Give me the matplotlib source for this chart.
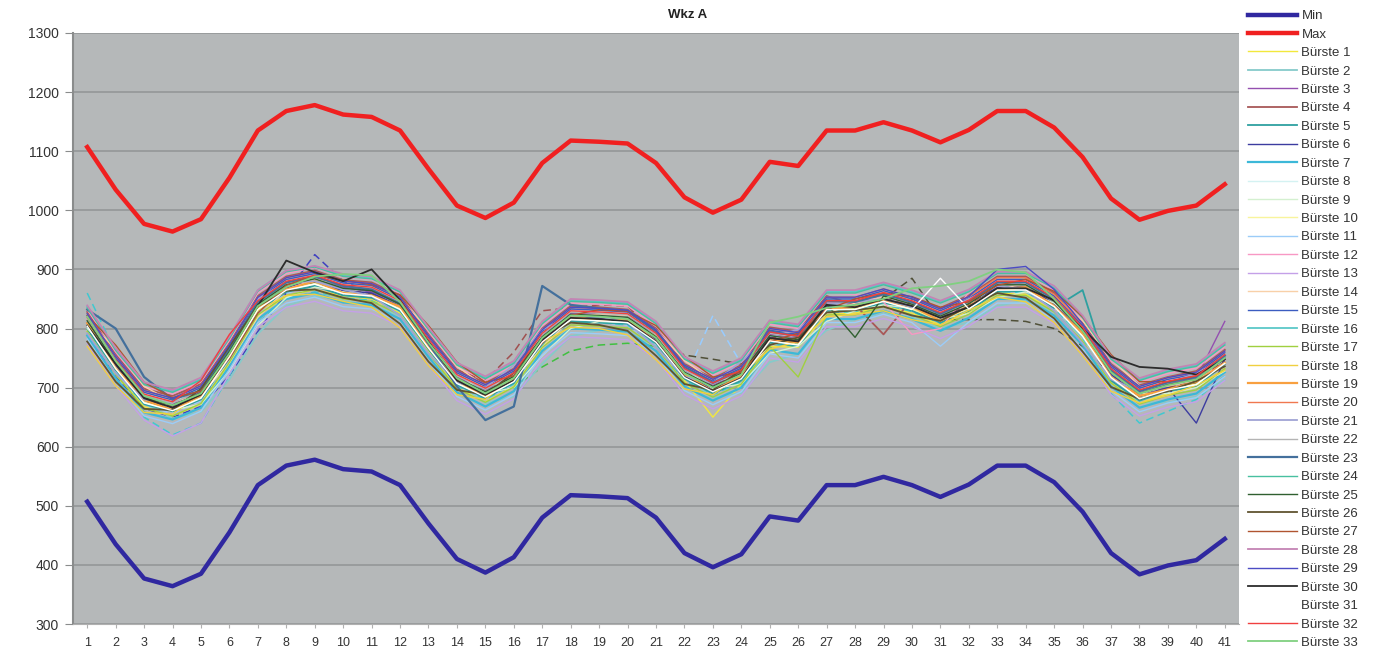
import matplotlib
matplotlib.use("Agg")
import matplotlib.pyplot as plt

plt.rcParams['font.family'] = ['Liberation Sans', 'DejaVu Sans']

x_labels = [str(i) for i in range(1, 42)]

min_vals = [507,435,377,364,385,455,535,568,578,562,558,535,470,410,387,413,480,518,516,513,480,420,396,418,482,475,535,535,549,535,515,536,568,568,540,490,420,384,399,408,444]
max_vals = [1107,1035,977,964,985,1055,1135,1168,1178,1162,1158,1135,1070,1008,987,1013,1080,1118,1116,1113,1080,1022,996,1018,1082,1075,1135,1135,1149,1135,1115,1136,1168,1168,1140,1090,1020,984,999,1008,1044]

b01 = [795,722,668,652,672,740,822,855,866,855,850,826,762,700,676,702,768,828,830,832,788,712,650,706,770,768,824,826,838,826,806,828,860,858,830,778,708,674,690,700,732]
b02 = [787,737,674,648,659,714,791,838,855,847,839,822,770,708,674,685,740,787,797,794,770,718,683,691,743,757,797,815,825,819,801,810,838,848,828,785,721,675,675,685,713]
b03 = [815,745,685,672,693,765,845,878,888,870,862,842,780,718,696,722,790,826,826,822,790,730,704,726,790,784,844,842,858,844,824,846,878,878,850,800,728,692,708,716,812]
b04 = [828,756,698,686,706,775,855,888,898,882,878,856,790,730,708,732,800,838,836,832,800,740,716,738,802,795,855,840,790,850,835,856,888,888,860,810,740,704,718,728,764]
b05 = [800,730,672,660,680,750,830,862,872,856,852,830,765,705,682,708,775,812,810,808,775,715,690,712,776,770,830,830,844,830,810,830,862,864,835,865,712,678,694,702,740]
b06 = [810,738,680,666,688,758,838,870,880,864,860,838,772,712,690,716,782,820,818,815,782,722,698,720,784,778,838,836,851,837,817,838,870,870,842,792,722,686,700,640,748]
b07 = [788,716,658,646,666,736,816,850,860,844,840,816,752,692,668,694,762,800,798,795,762,702,678,700,764,757,816,816,830,816,796,818,850,850,822,772,702,666,680,690,726]
b08 = [820,748,690,676,698,768,848,880,890,874,870,848,782,722,700,726,792,830,828,825,792,732,708,730,794,787,847,847,861,847,827,848,880,880,852,802,732,696,712,720,756]
b09 = [800,752,690,662,672,728,805,852,870,862,855,836,785,724,690,700,754,800,812,810,786,733,698,706,758,770,812,830,840,834,816,825,852,862,843,800,736,690,690,700,728]
b10 = [805,733,675,662,683,753,833,866,876,860,856,833,768,708,685,711,778,816,814,811,778,718,694,716,780,773,833,833,847,833,813,834,866,866,838,788,718,682,697,706,742]
b11 = [782,710,652,639,660,730,810,843,853,837,833,810,745,685,662,688,755,793,791,788,755,695,671,693,757,750,810,810,824,810,770,811,843,843,815,765,695,659,674,683,719]
b12 = [832,760,702,689,710,780,860,893,903,887,883,860,795,735,712,738,805,843,841,838,805,745,721,743,807,800,860,858,845,790,800,861,893,893,865,815,745,709,724,733,769]
b13 = [775,703,645,618,640,723,803,836,846,830,826,803,738,678,655,681,748,786,784,781,748,688,664,686,750,743,803,803,817,803,783,804,836,836,808,758,688,652,667,676,712]
b14 = [815,765,702,676,687,742,819,866,883,875,867,850,798,736,702,713,768,815,825,822,798,746,711,719,771,785,825,843,853,847,829,838,866,876,856,813,749,703,703,713,741]
b15 = [822,750,692,679,700,770,850,883,893,877,873,850,785,725,702,728,795,833,831,828,795,735,711,733,797,790,850,850,864,850,830,851,883,883,855,805,735,699,714,723,759]
b16 = [837,765,707,694,715,785,865,898,905,890,886,862,800,740,717,743,810,848,846,843,810,750,726,748,812,805,862,862,876,862,845,864,895,895,870,820,750,714,729,738,774]
b17 = [795,723,665,652,673,743,823,856,866,850,846,823,758,698,675,701,768,806,804,801,768,708,684,706,770,718,823,823,837,823,803,824,856,856,828,778,708,672,687,696,732]
b18 = [770,703,658,655,691,764,830,856,858,846,836,801,737,688,680,718,777,802,800,789,747,698,688,723,765,778,820,824,830,815,806,831,853,845,810,754,694,674,687,704,729]
b19 = [809,733,679,662,687,753,837,866,880,860,856,837,768,712,685,715,778,820,814,815,778,722,694,720,780,777,833,837,847,837,813,838,866,870,838,792,718,686,697,710,742]
b20 = [825,753,695,682,703,773,853,886,896,880,876,853,788,728,705,731,798,836,834,831,798,738,714,736,800,793,853,853,867,853,833,854,886,886,858,808,738,702,717,726,762]
b21 = [792,724,680,674,712,786,850,878,880,866,855,822,758,708,700,738,798,822,820,810,768,718,708,744,786,798,840,845,850,836,826,850,872,866,830,775,714,694,708,724,750]
b22 = [817,745,687,674,695,765,845,878,888,872,868,845,780,720,697,723,790,828,826,823,790,730,706,728,792,785,845,845,859,845,825,846,878,878,850,800,730,694,709,718,754]
b23 = [832,800,718,680,695,765,845,878,888,872,866,842,775,702,645,668,872,840,834,830,795,735,708,730,795,787,847,845,858,845,825,846,878,878,850,800,730,694,709,718,754]
b24 = [835,763,705,692,713,783,863,896,904,888,884,862,798,738,715,741,808,846,844,841,808,748,724,746,810,803,860,860,874,860,843,862,893,893,868,818,748,712,727,736,772]
b25 = [813,741,683,670,691,761,841,874,884,868,864,841,776,716,693,719,786,824,822,819,786,726,702,724,788,781,841,785,855,841,821,842,874,874,846,796,726,690,705,714,750]
b26 = [778,710,664,662,698,770,838,864,866,852,843,808,744,696,688,725,784,810,806,796,754,706,696,730,772,785,827,831,837,822,813,838,860,852,817,761,701,681,694,711,736]
b27 = [822,772,709,683,694,749,826,873,890,882,874,857,805,743,709,720,775,822,832,829,805,753,718,726,778,792,832,850,860,854,836,845,873,883,863,820,756,710,710,720,748]
b28 = [839,767,709,696,717,787,865,898,906,892,888,865,802,742,719,745,812,850,848,845,812,752,728,750,814,807,865,865,878,865,847,866,896,896,872,822,752,716,731,740,776]
b29 = [825,753,695,682,703,773,853,886,896,880,876,853,788,728,705,731,798,836,834,831,798,738,714,736,800,793,853,853,867,853,833,854,900,905,866,808,738,702,717,726,762]
b30 = [805,740,682,666,688,758,838,915,895,880,900,848,778,712,688,712,780,818,816,812,778,718,694,716,784,778,840,836,850,838,818,836,868,868,848,800,752,735,732,722,748]
b31 = [804,732,674,661,682,752,832,865,875,859,855,832,767,707,684,710,777,815,813,810,777,717,693,715,779,772,832,832,846,832,885,833,865,865,837,787,717,681,696,705,741]
b32 = [819,747,689,676,712,790,847,880,890,874,870,847,782,722,699,725,792,830,828,825,792,732,708,730,794,787,847,847,861,847,827,848,880,880,852,802,732,696,711,720,756]
b33 = [820,745,686,670,690,758,838,870,888,892,890,845,776,716,690,716,784,822,820,816,784,724,700,722,810,820,835,840,850,868,872,880,900,895,850,796,726,690,704,714,750]

# further (dashed) series whose legend entries are cut off
d1 = [790,720,665,650,668,720,795,860,925,880,860,832,770,710,686,712,780,818,816,812,780,720,696,718,782,775,835,835,849,835,815,836,868,868,840,790,720,684,699,708,744]
d2 = [815,740,682,668,688,758,838,870,880,864,860,836,772,730,712,760,830,835,840,838,790,725,702,722,786,778,838,838,852,838,818,840,870,870,842,792,722,686,700,710,746]
d3 = [800,730,672,660,680,750,830,862,872,858,852,830,766,706,690,700,735,762,772,775,770,718,694,716,780,773,833,833,847,833,813,834,866,866,838,788,718,682,697,706,742]
d4 = [795,728,670,656,678,748,828,860,872,858,852,828,764,704,680,706,772,812,810,806,772,712,822,740,778,770,830,830,844,830,810,832,864,864,836,786,716,680,694,704,740]
d5 = [805,736,678,664,686,756,836,868,878,862,858,836,772,712,688,714,780,818,816,812,780,755,748,740,782,775,835,840,850,885,815,815,815,812,800,770,720,684,699,708,744]
d6 = [860,760,650,620,640,720,810,850,862,852,848,826,762,702,680,706,772,812,810,806,772,712,688,710,774,768,826,828,840,828,808,828,860,862,834,784,690,640,660,680,720]

buerste = [b01,b02,b03,b04,b05,b06,b07,b08,b09,b10,b11,b12,b13,b14,b15,b16,b17,
           b18,b19,b20,b21,b22,b23,b24,b25,b26,b27,b28,b29,b30,b31,b32,b33]
buerste_labels = [f"Bürste {i}" for i in range(1, 34)]
buerste_colors = ['#F2E83C', '#86CACA', '#9450B0', '#A85858', '#2EA0A0', '#3C3CA0',
                  '#3CB8D8', '#D4F2F2', '#D4F0D0', '#F8F49C', '#9CCCF8', '#F898C4',
                  '#C4A0E8', '#F8D0A8', '#3C5CC0', '#5CC8C8', '#A0D040', '#F0D040',
                  '#F8A040', '#F07850', '#A0A4D4', '#B4B4B4', '#44709C', '#48C0A0',
                  '#306030', '#605430', '#B05430', '#C484B4', '#4C4CC4', '#2C2C2C',
                  '#FFFFFF', '#F04040', '#80D080']
buerste_widths = [1.0, 1.3, 1.0, 1.3, 1.3, 1.0, 1.6, 1.0, 1.0, 1.0, 1.0, 1.0, 1.0, 1.0,
                  1.0, 1.3, 1.0, 1.0, 1.6, 1.0, 1.3, 1.0, 1.6, 1.0, 1.0, 1.3, 1.0, 1.3,
                  1.0, 1.3, 1.0, 1.0, 1.3]
extra = [d1, d2, d3, d4, d5, d6]
extra_colors = ['#4040C0', '#A05050', '#40C040', '#99CCFF', '#505038', '#40C8D0']

fig = plt.figure(figsize=(13.89, 6.52), dpi=100)
fig.patch.set_facecolor('white')
ax = fig.add_axes([73/1389, 1-624/652, (1239-73)/1389, (624-33)/652])
ax.set_facecolor('#B5B8B9')

xs = list(range(1, 42))
for vals, col in zip(extra, extra_colors):
    ax.plot(xs, vals, color=col, lw=1.1, ls=(0, (5, 3)))
handles = []
for vals, col, lw, lab in zip(buerste, buerste_colors, buerste_widths, buerste_labels):
    h, = ax.plot(xs, vals, color=col, lw=lw, label=lab)
    handles.append(h)
hmin, = ax.plot(xs, min_vals, color='#3028A0', lw=3.2, label='Min')
hmax, = ax.plot(xs, max_vals, color='#F02020', lw=3.2, label='Max')

ax.set_xlim(0.5, 41.5)
ax.set_ylim(300, 1300)
ax.set_yticks(range(300, 1301, 100))
ax.set_xticks(xs)
ax.set_xticklabels(x_labels)
ax.grid(axis='y', color='#96999A', lw=1.3)
ax.set_axisbelow(True)
for s in ['top', 'right']:
    ax.spines[s].set_visible(False)
ax.spines['left'].set_color('#8A8C8C')
ax.spines['left'].set_linewidth(1.5)
ax.spines['bottom'].set_color('#B0B0B0')
ax.tick_params(axis='y', length=6, color='#8A8C8C', labelsize=10, labelcolor='#333333', pad=4)
ax.tick_params(axis='x', length=3, color='#B0B0B0', labelsize=9, labelcolor='#333333', pad=6)

fig.text(688/1389, 1-15/652, "Wkz A", ha='center', va='center', fontsize=9.5,
         fontweight='bold', color='#222222')

leg_handles = [hmin, hmax] + handles
leg_labels = ['Min', 'Max'] + buerste_labels
leg = fig.legend(leg_handles, leg_labels, loc='upper left',
                 bbox_to_anchor=(1248/1389, 1 - 10/652), frameon=False,
                 fontsize=9.5, handlelength=3.7, handletextpad=0.35,
                 labelspacing=0.47, borderaxespad=0, borderpad=0)
for t in leg.get_texts():
    t.set_color('#333333')

fig.savefig('out.png', dpi=100, facecolor='white')
